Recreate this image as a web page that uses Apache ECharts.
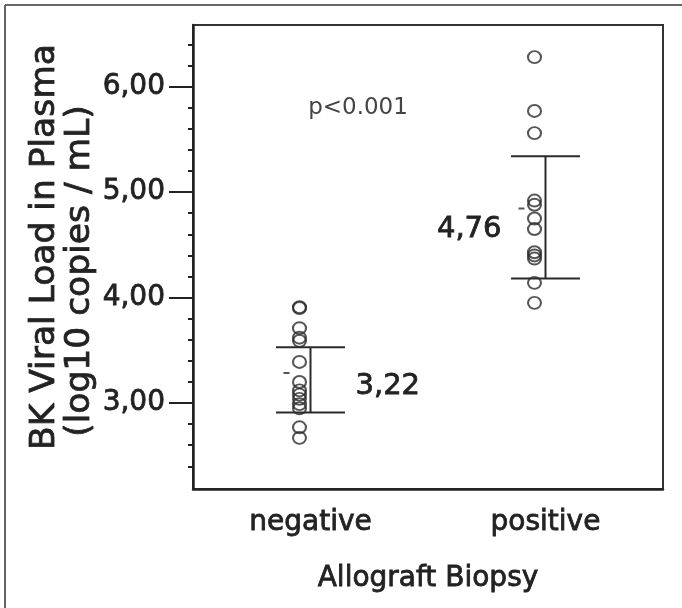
<!DOCTYPE html>
<html>
<head>
<meta charset="utf-8">
<script src="https://cdn.jsdelivr.net/npm/echarts@6/dist/echarts.min.js"></script>
<style>
  html, body { margin: 0; padding: 0; background: #fff; }
  #chart { width: 682px; height: 608px; }
</style>
</head>
<body>
<div id="chart"></div>
<script>
// Biopsy groups and the log10 plasma BK viral loads of each patient
const categories = ['negative', 'positive'];
const negativeLoads = [3.91, 3.90, 3.71, 3.62, 3.59, 3.39, 3.20, 3.12, 3.08, 3.04, 2.99, 2.95, 2.77, 2.67];
const positiveLoads = [6.28, 5.77, 5.56, 4.92, 4.88, 4.75, 4.65, 4.43, 4.40, 4.37, 4.14, 3.95];

// Group summaries: mean (printed beside the bar) and the spread drawn as whiskers
const groupMeans = [3.22, 4.76];
const groupSpread = [0.31, 0.58];
// Small centre dashes shown next to each group of points
const centerMarks = [3.285, 4.845];

// Value axis ticks
const yMajorTicks = [3, 4, 5, 6];
const yMinorTicks = [2.4, 2.6, 2.8, 3.2, 3.4, 3.6, 3.8, 4.2, 4.4, 4.6, 4.8, 5.2, 5.4, 5.6, 5.8, 6.2, 6.4];

const FONT = 'DejaVu Sans';
const INK = '#222';
const HEAVY = 0.8; // extra outline so the lettering reads a little heavier

const chart = echarts.init(document.getElementById('chart'), null, { renderer: 'canvas' });

const fmtComma = v => v.toFixed(2).replace('.', ',');

const option = {
  backgroundColor: '#fff',
  animation: false,
  grid: {
    left: 193, top: 25, right: 19, bottom: 119,
    show: true, borderColor: '#333', borderWidth: 2, backgroundColor: 'transparent'
  },
  xAxis: {
    type: 'category',
    data: categories,
    boundaryGap: true,
    axisLine: { lineStyle: { color: INK, width: 2.5 } },
    axisTick: { alignWithLabel: true, length: 8, lineStyle: { color: INK, width: 1.5 } },
    axisLabel: {
      color: INK, fontFamily: FONT, fontSize: 28, margin: 20,
      textBorderColor: INK, textBorderWidth: HEAVY
    },
    splitLine: { show: false },
    name: 'Allograft Biopsy',
    nameLocation: 'middle',
    nameGap: 76,
    nameTextStyle: { color: INK, fontFamily: FONT, fontSize: 28, textBorderColor: INK, textBorderWidth: HEAVY }
  },
  yAxis: [
    {
      type: 'value',
      min: 2.185, max: 6.585,
      axisLine: { show: true, lineStyle: { color: INK, width: 2.5 } },
      axisTick: { show: true, customValues: yMajorTicks, length: 24, lineStyle: { color: INK, width: 2 } },
      axisLabel: {
        customValues: yMajorTicks, margin: 28, color: INK, fontFamily: FONT, fontSize: 28,
        textBorderColor: INK, textBorderWidth: HEAVY,
        formatter: v => fmtComma(v)
      },
      splitLine: { show: false }
    },
    {
      type: 'value',
      min: 2.185, max: 6.585,
      position: 'left',
      axisLine: { show: false },
      axisTick: { show: true, customValues: yMinorTicks, length: 5, lineStyle: { color: INK, width: 2 } },
      axisLabel: { show: false },
      splitLine: { show: false }
    }
  ],
  graphic: [
    // page frame (top and left edges)
    { type: 'line', shape: { x1: 5, y1: 5, x2: 682, y2: 5 }, style: { stroke: '#666', lineWidth: 2 } },
    { type: 'line', shape: { x1: 5, y1: 5, x2: 5, y2: 608 }, style: { stroke: '#666', lineWidth: 2 } },
    // vertical axis title, two lines
    {
      type: 'text', x: 45, y: 247, rotation: Math.PI / 2,
      style: {
        text: 'BK Viral Load in Plasma', fontFamily: FONT, fontSize: 34.5, fill: INK,
        stroke: INK, lineWidth: HEAVY, align: 'center', verticalAlign: 'middle'
      }
    },
    {
      type: 'text', x: 80, y: 271, rotation: Math.PI / 2,
      style: {
        text: '(log10 copies / mL)', fontFamily: FONT, fontSize: 34.5, fill: INK,
        stroke: INK, lineWidth: HEAVY, align: 'center', verticalAlign: 'middle'
      }
    },
    {
      type: 'text', x: 358, y: 108,
      style: { text: 'p<0.001', fontFamily: FONT, fontSize: 23, fill: '#444', align: 'center', verticalAlign: 'middle' }
    }
  ],
  series: [
    {
      type: 'custom',
      xAxisIndex: 0, yAxisIndex: 0,
      data: categories.map((c, i) => [i, groupMeans[i], groupSpread[i]]),
      renderItem: function (params, api) {
        const i = api.value(0);
        const m = api.value(1);
        const s = api.value(2);
        const top = api.coord([i, m + s]);
        const bot = api.coord([i, m - s]);
        const mid = api.coord([i, m]);
        const half = 34.5;
        const st = { stroke: '#2a2a2a', lineWidth: 2 };
        const right = i === 0;
        return {
          type: 'group',
          children: [
            { type: 'line', shape: { x1: top[0], y1: top[1], x2: bot[0], y2: bot[1] }, style: st },
            { type: 'line', shape: { x1: top[0] - half, y1: top[1], x2: top[0] + half, y2: top[1] }, style: st },
            { type: 'line', shape: { x1: bot[0] - half, y1: bot[1], x2: bot[0] + half, y2: bot[1] }, style: st },
            {
              type: 'text',
              x: right ? mid[0] + 45 : mid[0] - 44,
              y: right ? mid[1] + 7 : mid[1] + 12,
              style: {
                text: fmtComma(m), fontFamily: FONT, fontSize: 29, fill: INK,
                stroke: INK, lineWidth: HEAVY,
                align: right ? 'left' : 'right', verticalAlign: 'middle'
              }
            }
          ]
        };
      },
      z: 2
    },
    {
      type: 'scatter',
      xAxisIndex: 0, yAxisIndex: 0,
      data: negativeLoads.map(v => [categories[0], v]).concat(positiveLoads.map(v => [categories[1], v])),
      symbol: 'circle',
      symbolSize: [13, 12],
      symbolOffset: [-11, 0],
      itemStyle: { color: 'rgba(255,255,255,0)', borderColor: '#2a2a2a', borderWidth: 2 },
      z: 3
    },
    {
      type: 'scatter',
      xAxisIndex: 0, yAxisIndex: 0,
      data: centerMarks.map((v, i) => [categories[i], v]),
      symbol: 'rect',
      symbolSize: [6, 2],
      symbolOffset: [-24, 0],
      itemStyle: { color: '#2a2a2a' },
      z: 3
    }
  ]
};

chart.setOption(option);
</script>
</body>
</html>
